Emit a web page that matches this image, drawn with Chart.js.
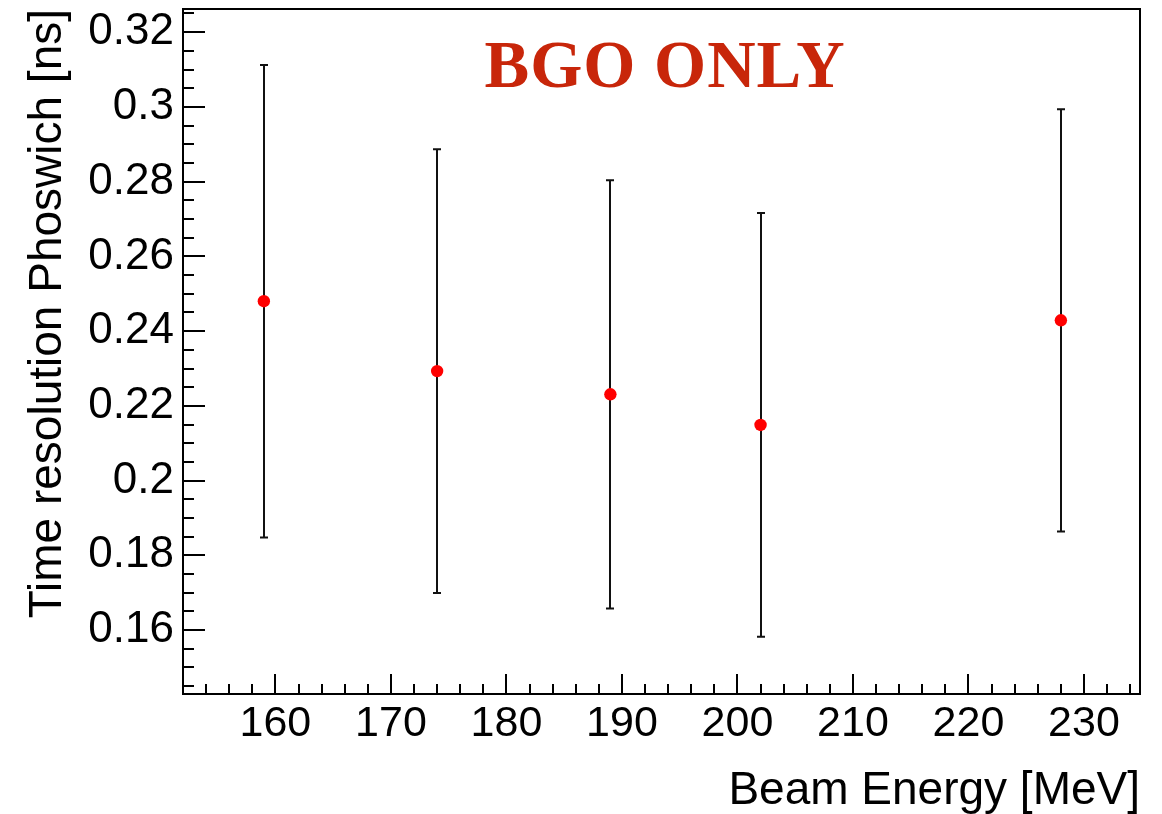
<!DOCTYPE html>
<html>
<head>
<meta charset="utf-8">
<script src="https://cdn.jsdelivr.net/npm/chart.js@4.4.1/dist/chart.umd.min.js"></script>
<style>
  html, body { margin: 0; padding: 0; background: #ffffff; }
  canvas { display: block; }
</style>
</head>
<body>
<canvas id="c" width="1162" height="814"></canvas>
<script>
// ---- data ----
const beamEnergy = [159, 174, 189, 202, 228];                       // MeV
const timeResolution = [0.2480, 0.2293, 0.2231, 0.2149, 0.2429];    // ns
const timeResolutionErr = [0.0632, 0.0594, 0.0573, 0.0567, 0.0565]; // ns (symmetric)
const xTickValues = [160, 170, 180, 190, 200, 210, 220, 230];
const yTickValues = [0.16, 0.18, 0.2, 0.22, 0.24, 0.26, 0.28, 0.3, 0.32];
const chartLabel = 'BGO ONLY';
const xAxisTitle = 'Beam Energy [MeV]';
const yAxisTitle = 'Time resolution Phoswich [ns]';

// ---- styling ----
const FONT = 'Liberation Sans, Arial, Helvetica, sans-serif';
const X_MINOR_STEP = 2, X_MAJOR_STEP = 10;
const Y_MINOR_STEP = 0.005, Y_MAJOR_EVERY = 4;

const rootDecor = {
  id: 'rootDecor',
  beforeDatasetsDraw(chart) {
    const { ctx, chartArea: a, scales: { x, y } } = chart;
    ctx.save();
    // tick marks (inside the frame, ROOT style)
    ctx.strokeStyle = '#000';
    ctx.lineWidth = 2;
    ctx.beginPath();
    const xi0 = Math.ceil(x.min / X_MINOR_STEP - 1e-9), xi1 = Math.floor(x.max / X_MINOR_STEP + 1e-9);
    for (let i = xi0; i <= xi1; i++) {
      const v = i * X_MINOR_STEP;
      const px = Math.round(x.getPixelForValue(v));
      const len = (Math.abs(v % X_MAJOR_STEP) < 1e-9) ? 20 : 10;
      ctx.moveTo(px, a.bottom);
      ctx.lineTo(px, a.bottom - len);
    }
    const yi0 = Math.ceil(y.min / Y_MINOR_STEP - 1e-9), yi1 = Math.floor(y.max / Y_MINOR_STEP + 1e-9);
    for (let i = yi0; i <= yi1; i++) {
      const py = Math.round(y.getPixelForValue(i * Y_MINOR_STEP));
      const len = (i % Y_MAJOR_EVERY === 0) ? 22 : 11;
      ctx.moveTo(a.left, py);
      ctx.lineTo(a.left + len, py);
    }
    ctx.stroke();

    // frame
    ctx.lineWidth = 2;
    ctx.strokeStyle = '#000';
    ctx.strokeRect(a.left, a.top, a.right - a.left, a.bottom - a.top);

    // error bars
    ctx.strokeStyle = '#111';
    ctx.lineWidth = 2;
    ctx.beginPath();
    beamEnergy.forEach((e, i) => {
      const px = Math.round(x.getPixelForValue(e));
      const yt = y.getPixelForValue(timeResolution[i] + timeResolutionErr[i]);
      const yb = y.getPixelForValue(timeResolution[i] - timeResolutionErr[i]);
      ctx.moveTo(px, yt);
      ctx.lineTo(px, yb);
      ctx.moveTo(px - 4, yt);
      ctx.lineTo(px + 4, yt);
      ctx.moveTo(px - 4, yb);
      ctx.lineTo(px + 4, yb);
    });
    ctx.stroke();
    ctx.restore();
  },
  afterDraw(chart) {
    const { ctx } = chart;
    ctx.save();
    ctx.fillStyle = '#c8260a';
    ctx.font = 'bold 67px "Liberation Serif", "Times New Roman", serif';
    if ('letterSpacing' in ctx) ctx.letterSpacing = '1px';
    ctx.textAlign = 'center';
    ctx.textBaseline = 'alphabetic';
    ctx.fillText(chartLabel, 665, 87);
    ctx.restore();
  }
};

new Chart(document.getElementById('c').getContext('2d'), {
  type: 'scatter',
  data: {
    datasets: [{
      data: beamEnergy.map((e, i) => ({ x: e, y: timeResolution[i] })),
      backgroundColor: '#ff0000',
      borderWidth: 0,
      pointRadius: 6.2,
      pointHoverRadius: 6.2
    }]
  },
  options: {
    responsive: false,
    animation: false,
    devicePixelRatio: 1,
    events: [],
    layout: { padding: { left: 0, top: 9, right: 22, bottom: 0 } },
    plugins: { legend: { display: false }, tooltip: { enabled: false } },
    scales: {
      x: {
        type: 'linear',
        min: 152,
        max: 234.85,
        afterBuildTicks: s => { s.ticks = xTickValues.map(v => ({ value: v })); },
        afterFit: s => { s.height = 120; s.paddingLeft = 0; s.paddingRight = 0; },
        grid: { display: false, drawTicks: false },
        border: { display: false },
        ticks: {
          autoSkip: false, maxRotation: 0, minRotation: 0,
          padding: 9, color: '#000',
          font: { family: FONT, size: 43, lineHeight: 1 },
          callback: v => String(v)
        },
        title: {
          display: true, text: xAxisTitle, align: 'end', color: '#000',
          padding: { top: 0, bottom: 0 },
          font: { family: FONT, size: 46, lineHeight: 1 }
        }
      },
      y: {
        type: 'linear',
        min: 0.1429,
        max: 0.3262,
        afterBuildTicks: s => { s.ticks = yTickValues.map(v => ({ value: v })); },
        afterFit: s => { s.width = 183; s.paddingTop = 0; s.paddingBottom = 0; },
        grid: { display: false, drawTicks: false },
        border: { display: false },
        ticks: {
          autoSkip: false,
          padding: 9, color: '#000',
          font: { family: FONT, size: 44, lineHeight: 1 },
          callback: v => String(v)
        },
        title: {
          display: true, text: yAxisTitle, align: 'end', color: '#000',
          padding: { top: 25.7, bottom: 0 },
          font: { family: FONT, size: 46, lineHeight: 1 }
        }
      }
    }
  },
  plugins: [rootDecor]
});
</script>
</body>
</html>
